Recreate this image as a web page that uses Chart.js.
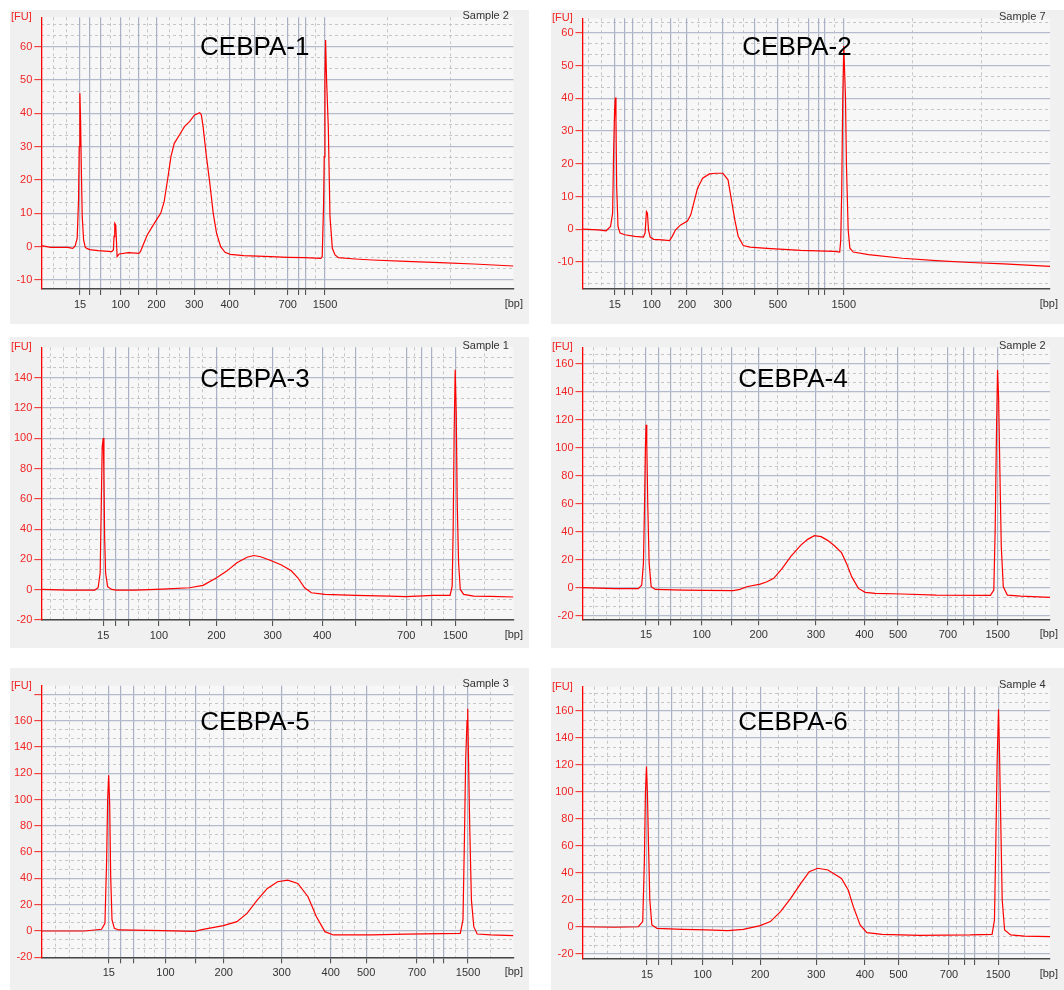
<!DOCTYPE html>
<html>
<head>
<meta charset="utf-8">
<script src="https://cdn.jsdelivr.net/npm/chart.js@4.4.1/dist/chart.umd.min.js"></script>
<style>
  body { margin: 0; background: #fff; width: 1064px; height: 990px; position: relative; overflow: hidden; }
  canvas { position: absolute; }
</style>
</head>
<body>
<canvas id="c1"></canvas>
<canvas id="c2"></canvas>
<canvas id="c3"></canvas>
<canvas id="c4"></canvas>
<canvas id="c5"></canvas>
<canvas id="c6"></canvas>
<script>
// DNA 1000 ladder sizes [bp]
var ladderBp = [15, 25, 50, 100, 150, 200, 300, 400, 500, 700, 850, 1000, 1500];

// migration position of each ladder peak (% of the time window), per run
var ladder1 = [8.2, 10.3, 12.6, 16.8, 20.7, 24.4, 32.4, 39.9, 45.1, 52.2, 54.5, 55.9, 60.1];
var ladder2 = [6.9, 9.05, 10.8, 14.8, 18.8, 22.35, 29.97, 36.8, 41.8, 48.3, 50.4, 51.8, 55.9];
var ladder3 = [13.1, 15.8, 18.5, 24.9, 31.4, 37.1, 49.0, 59.5, 66.5, 77.3, 80.6, 82.65, 87.7];
var ladder4 = [13.6, 16.3, 18.8, 25.5, 31.85, 37.7, 49.95, 60.3, 67.5, 78.15, 81.55, 83.75, 88.8];
var ladder5 = [14.3, 16.85, 19.55, 26.3, 32.7, 38.65, 50.9, 61.3, 68.8, 79.55, 83.15, 85.15, 90.4];
var ladder6 = [13.8, 16.35, 19.05, 25.7, 32.05, 38.0, 50.0, 60.4, 67.6, 78.4, 81.8, 83.8, 88.9];

// which ladder sizes get a printed label
var labels1 = ['15', '', '', '100', '', '200', '300', '400', '', '700', '', '', '1500'];
var labels2 = ['15', '', '', '100', '', '200', '300', '', '500', '', '', '', '1500'];
var labels3 = ['15', '', '', '100', '', '200', '300', '400', '', '700', '', '', '1500'];
var labels4 = ['15', '', '', '100', '', '200', '300', '400', '500', '700', '', '', '1500'];

// FU tick values
var yTicksA = [-10, 0, 10, 20, 30, 40, 50, 60];
var yTicks3 = [-20, 0, 20, 40, 60, 80, 100, 120, 140];
var yTicks4 = [-20, 0, 20, 40, 60, 80, 100, 120, 140, 160];
var yTicks5 = [-20, 0, 20, 40, 60, 80, 100, 120, 140, 160, 180];

// traces: time (% of window) and fluorescence [FU]
var time1 = [0, 2.01, 5.59, 6.67, 7.17, 7.6, 7.89, 8.03, 8.17, 8.32,
  8.46, 8.67, 8.96, 9.32, 9.75, 10.25, 12.04, 14.91, 15.27, 15.41,
  15.56, 15.77, 16.06, 16.49, 18.49, 20.65, 21.0, 21.72, 22.44, 23.51,
  24.59, 25.3, 26.02, 26.74, 27.46, 28.17, 29.25, 30.32, 31.4, 32.47,
  33.55, 33.91, 34.27, 34.98, 35.7, 36.42, 37.13, 37.99, 38.92, 40.0,
  42.87, 48.6, 52.19, 55.77, 59.21, 59.5, 59.78, 59.93, 60.08, 60.22,
  60.43, 60.79, 61.15, 61.65, 62.22, 62.94, 66.52, 70.11, 77.28, 84.44,
  91.61, 100];
var fu1 = [0.3, -0.2, -0.2, -0.5, 0.2, 2.5, 14, 30, 46, 38,
  25, 9, 2, -0.2, -0.6, -0.9, -1.2, -1.5, -1.0, 3,
  7, 6.5, -3, -2.2, -1.8, -2, -1.5, 1, 3.5, 6,
  8.5, 10, 13.5, 20, 27, 31, 33.5, 36, 37.5, 39.5,
  40.2, 39.5, 36, 27, 19, 10, 4, 0, -1.7, -2.3,
  -2.7, -3, -3.2, -3.3, -3.5, -3, 12, 27, 50, 62,
  50, 36, 9, -0.5, -2.5, -3.3, -3.7, -4, -4.4, -4.8,
  -5.2, -5.8];

var time2 = [0, 3.25, 5.06, 6.0, 6.44, 6.66, 6.87, 7.02, 7.16, 7.31,
  7.6, 8.03, 9.04, 11.21, 13.03, 13.39, 13.68, 13.89, 14.11, 14.48,
  15.2, 17.01, 18.61, 19.19, 19.91, 21.0, 22.45, 23.16, 23.89, 24.61,
  25.7, 27.15, 28.6, 30.04, 31.13, 31.85, 32.57, 33.3, 34.38, 35.83,
  39.45, 46.69, 53.93, 55.02, 55.24, 55.45, 55.67, 55.89, 56.03, 56.25,
  56.47, 56.83, 57.19, 57.92, 61.18, 68.42, 75.66, 82.9, 90.14, 100];
var fu2 = [0, -0.2, -0.5, 0.8, 4.9, 24, 36.5, 40.3, 33.4, 13,
  0.8, -1.2, -1.7, -2.2, -2.4, -1.2, 5.4, 4.9, -0.2, -2.4,
  -3.1, -3.3, -3.5, -2.2, -0.2, 1.3, 2.5, 4.4, 8.5, 12.5,
  15.6, 16.9, 17.1, 17.1, 15.1, 9, 2.9, -2.2, -5, -5.5,
  -5.9, -6.5, -6.8, -7, -3.3, 12, 40, 56, 49.7, 40.5,
  19.1, -0.2, -5.8, -7, -7.8, -8.9, -9.6, -10.2, -10.6, -11.4];

var time3 = [0, 5.59, 11.33, 12.04, 12.47, 12.69, 12.9, 13.12, 13.26, 13.41,
  13.62, 14.05, 14.91, 15.99, 19.93, 25.66, 31.4, 34.27, 37.13, 39.28,
  41.43, 43.58, 45.02, 46.45, 48.6, 50.75, 52.9, 54.34, 55.77, 57.2,
  60.07, 66.52, 73.69, 77.28, 83.01, 86.59, 87.03, 87.24, 87.46, 87.67,
  87.89, 88.1, 88.39, 88.75, 89.46, 91.61, 95.2, 100];
var fu3 = [0.2, -0.2, -0.2, 1.3, 11.2, 53, 94.7, 100.2, 79.3, 35.4,
  11.2, 2, 0.2, -0.2, -0.2, 0.4, 1.3, 2.9, 7.9, 12.3,
  17.8, 21.5, 22.6, 21.8, 19.3, 16.5, 12.7, 7.9, 1.3, -2,
  -3.1, -3.7, -4.2, -4.6, -3.7, -3.7, 2.4, 39.8, 105.7, 145.3,
  116.7, 57.4, 17.8, 0.2, -3.1, -4.2, -4.4, -4.8];

var time4 = [0, 6.87, 11.94, 12.67, 13.03, 13.24, 13.46, 13.61, 13.75, 13.97,
  14.26, 14.69, 15.56, 21.37, 26.44, 32.23, 33.67, 35.12, 38.02, 39.47,
  40.91, 42.72, 44.53, 46.71, 48.15, 49.6, 51.05, 52.5, 53.95, 55.4,
  56.48, 57.57, 59.02, 60.47, 62.64, 68.44, 75.68, 87.26, 87.98, 88.27,
  88.56, 88.78, 89.0, 89.29, 89.58, 90.01, 90.88, 93.78, 100];
var fu4 = [0, -0.7, -0.7, 1.9, 17.4, 53.2, 101, 116.5, 103.3, 58,
  17.4, 0.7, -1.2, -1.7, -1.9, -2.1, -1.2, 0.7, 2.6, 4.3,
  6.7, 13.8, 22.2, 30.5, 34.6, 37.2, 36.5, 33.7, 29.8, 25.1,
  17.4, 7.9, -0.5, -3.3, -4.1, -4.5, -5.3, -5.5, -1.7, 41.3,
  112.9, 155.8, 136.8, 81.9, 29.4, 0.7, -5.3, -6, -6.9];

var time5 = [0, 9.18, 12.76, 13.48, 13.84, 14.05, 14.27, 14.48, 14.7, 14.98,
  15.48, 16.34, 25.66, 32.47, 34.27, 38.57, 41.43, 43.58, 45.73, 47.89,
  50.04, 52.19, 54.34, 56.49, 58.28, 60.07, 61.86, 70.11, 77.28, 88.75,
  89.32, 89.61, 89.89, 90.18, 90.32, 90.47, 90.75, 91.11, 91.61, 92.33,
  95.2, 100];
var fu5 = [0, 0, 1.3, 5.8, 53.9, 99.5, 118.5, 97, 41.3, 8.4,
  2, 0.8, 0.3, -0.3, 1.3, 4.1, 7.1, 13.4, 23.5, 32.4,
  37.5, 38.7, 36.2, 26.1, 10.9, -0.5, -3, -3, -2.3, -1.8,
  8.4, 66.6, 129.9, 160, 169, 134.9, 79.2, 23.5, 3.3, -2.3,
  -3, -3.5];

var time6 = [0, 6.87, 11.94, 12.88, 13.24, 13.46, 13.68, 13.89, 14.11, 14.4,
  14.84, 15.93, 21.35, 26.42, 31.11, 34.39, 38.01, 40.18, 42.36, 44.53,
  46.7, 48.51, 50.32, 52.5, 55.4, 56.84, 57.93, 59.38, 60.83, 64.09,
  72.05, 82.9, 87.61, 88.12, 88.41, 88.7, 88.99, 89.2, 89.42, 89.78,
  90.29, 91.59, 94.49, 100];
var fu6 = [0.2, -0.2, 0.2, 4, 49.6, 99, 118.8, 99, 62, 20,
  1.5, -1, -1.7, -2.2, -2.7, -1.7, 1, 4, 11.4, 21.2,
  32.3, 41, 43.5, 42.2, 36, 27.4, 15.1, 1.5, -4.2, -5.4,
  -6.2, -5.9, -5.4, 5.2, 62, 123.7, 161.2, 128.6, 86.7, 20,
  -2.2, -5.9, -6.7, -7.2];

var FONT = "'Liberation Sans', Arial, sans-serif";
var RED = '#f22424';

// panel boxes and plot areas are in page pixels
var panels = [
  { id: 'c1', box: [10, 10, 519, 314], area: [41.3, 17.3, 513.4, 289], ymin: -12.7, ymax: 68.8, step: 10,
    yTicks: yTicksA, time: time1, fu: fu1, ladder: ladder1, labels: labels1,
    title: 'CEBPA-1', sample: 'Sample 2', tx: 254.7, ty: 47.7 },
  { id: 'c2', box: [551, 10, 513, 314], area: [582.5, 18.3, 1050, 289], ymin: -18.3, ymax: 64.5, step: 10,
    yTicks: yTicksA, time: time2, fu: fu2, ladder: ladder2, labels: labels2,
    title: 'CEBPA-2', sample: 'Sample 7', tx: 797, ty: 47.7 },
  { id: 'c3', box: [10, 337, 519, 311], area: [41.3, 347.3, 513.4, 620], ymin: -20, ymax: 160.2, step: 20,
    yTicks: yTicks3, time: time3, fu: fu3, ladder: ladder3, labels: labels3,
    title: 'CEBPA-3', sample: 'Sample 1', tx: 255, ty: 380 },
  { id: 'c4', box: [551, 337, 513, 311], area: [582.5, 347.3, 1050, 619.3], ymin: -22.6, ymax: 172, step: 20,
    yTicks: yTicks4, time: time4, fu: fu4, ladder: ladder4, labels: labels4,
    title: 'CEBPA-4', sample: 'Sample 2', tx: 793, ty: 380 },
  { id: 'c5', box: [10, 668, 519, 322], area: [41.3, 685.7, 513.4, 957.3], ymin: -20, ymax: 186.6, step: 20,
    yTicks: yTicks5, time: time5, fu: fu5, ladder: ladder5, labels: labels4,
    title: 'CEBPA-5', sample: 'Sample 3', tx: 255, ty: 722.7 },
  { id: 'c6', box: [551, 668, 513, 322], area: [582.5, 686.7, 1050, 959], ymin: -23.7, ymax: 178, step: 20,
    yTicks: yTicks4, time: time6, fu: fu6, ladder: ladder6, labels: labels4,
    title: 'CEBPA-6', sample: 'Sample 4', tx: 793, ty: 722.7 }
];

// dashed vertical grid between the ladder lines
function minorX(lad) {
  var out = [], i, k, g, n;
  for (k = lad[0] - 2.8; k > 0.5; k -= 2.8) out.push(k);
  for (i = 0; i < lad.length - 1; i++) {
    g = lad[i + 1] - lad[i];
    n = g < 3 ? 0 : (g < 6 ? 1 : 2);
    for (k = 1; k <= n; k++) out.push(lad[i] + g * k / (n + 1));
  }
  var last = lad[lad.length - 1], rem = 100 - last;
  var d = Math.max(2, Math.round(rem / 13.3));
  for (k = 1; k < d; k++) out.push(last + rem * k / d);
  return out;
}

// dashed horizontal grid, three per major step
function minorY(min, max, step) {
  var out = [], s = step / 3, v;
  for (v = Math.ceil(min / s) * s; v < max; v += s) {
    if (Math.abs(v / step - Math.round(v / step)) > 0.01) out.push(v);
  }
  return out;
}

var panelBg = {
  id: 'panelBg',
  beforeDraw: function(chart) {
    var c = chart.ctx, a = chart.chartArea;
    c.save();
    c.fillStyle = '#f0f0f0';
    c.fillRect(0, 0, chart.width, chart.height);
    c.fillStyle = '#f7f7f7';
    c.fillRect(a.left, a.top, a.right - a.left, a.bottom - a.top);
    c.restore();
  }
};

var panelText = {
  id: 'panelText',
  afterDraw: function(chart, args, opts) {
    var c = chart.ctx, a = chart.chartArea;
    c.save();
    c.textBaseline = 'middle';
    c.font = '11px ' + FONT;
    c.fillStyle = RED;
    c.textAlign = 'left';
    c.fillText('[FU]', 1, a.top);
    c.fillStyle = '#333';
    c.textAlign = 'right';
    c.fillText('[bp]', chart.width - 6, a.bottom + 15);
    c.fillText(opts.sample, a.right - 4.5, a.top - 1.6);
    c.fillStyle = '#000';
    c.textAlign = 'center';
    c.font = '26px ' + FONT;
    c.fillText(opts.title, opts.tx, opts.ty);
    c.restore();
  }
};

panels.forEach(function(p) {
  var cv = document.getElementById(p.id);
  var bx = p.box, ar = p.area;
  cv.style.left = bx[0] + 'px';
  cv.style.top = bx[1] + 'px';
  cv.width = bx[2];
  cv.height = bx[3];
  cv.style.width = bx[2] + 'px';
  cv.style.height = bx[3] + 'px';

  var leftW = ar[0] - bx[0];
  var bottomH = bx[1] + bx[3] - ar[3];
  var xMinor = minorX(p.ladder);
  var yMinor = minorY(p.ymin, p.ymax, p.step);
  var span = p.ymax - p.ymin;

  var pts = p.time.map(function(t, i) { return { x: t, y: p.fu[i] }; });

  new Chart(cv, {
    type: 'line',
    data: {
      datasets: [{
        data: pts,
        borderColor: '#ff0000',
        borderWidth: 1.2,
        pointRadius: 0,
        tension: 0,
        fill: false
      }]
    },
    options: {
      responsive: false,
      animation: false,
      events: [],
      layout: {
        padding: { left: 0, bottom: 0, top: ar[1] - bx[1], right: bx[0] + bx[2] - ar[2] }
      },
      plugins: {
        legend: { display: false },
        tooltip: { enabled: false },
        panelText: { title: p.title, sample: p.sample, tx: p.tx - bx[0], ty: p.ty - bx[1] }
      },
      scales: {
        xm: {
          type: 'linear', position: 'bottom', min: 0, max: 100, z: -1,
          afterBuildTicks: function(s) { s.ticks = xMinor.map(function(v) { return { value: v }; }); },
          afterFit: function(s) { s.height = 0; s.paddingLeft = 0; s.paddingRight = 0; },
          ticks: { display: false },
          grid: { color: '#c6c6c6', lineWidth: 1, drawTicks: false },
          border: { display: false, dash: [3, 3] }
        },
        ym: {
          type: 'linear', position: 'left', min: p.ymin, max: p.ymax, z: -1,
          afterBuildTicks: function(s) { s.ticks = yMinor.map(function(v) { return { value: v }; }); },
          afterFit: function(s) { s.width = 0; s.paddingTop = 0; s.paddingBottom = 0; },
          ticks: { display: false },
          grid: { color: '#c6c6c6', lineWidth: 1, drawTicks: false },
          border: { display: false, dash: [3, 3] }
        },
        x: {
          type: 'linear', position: 'bottom', min: 0, max: 100,
          afterBuildTicks: function(s) { s.ticks = p.ladder.map(function(v) { return { value: v }; }); },
          afterFit: function(s) { s.height = bottomH; s.paddingLeft = 0; s.paddingRight = 0; },
          ticks: {
            autoSkip: false, maxRotation: 0, padding: 3, color: '#333',
            font: { family: FONT, size: 11 },
            callback: function(v, i) { return p.labels[i]; }
          },
          grid: { color: '#a9b2c4', lineWidth: 1.2, drawTicks: true, tickLength: 6, tickColor: '#444', tickWidth: 1 },
          border: { display: true, color: '#474747', width: 1.5 }
        },
        y: {
          type: 'linear', position: 'left', min: p.ymin, max: p.ymax,
          afterBuildTicks: function(s) { s.ticks = p.yTicks.map(function(v) { return { value: v }; }); },
          afterFit: function(s) { s.width = leftW; s.paddingTop = 0; s.paddingBottom = 0; },
          ticks: {
            autoSkip: false, padding: 2, color: RED,
            font: { family: FONT, size: 11 },
            callback: function(v) { return (p.ymax - v) < 0.05 * span ? '' : String(v); }
          },
          grid: { color: '#b3bbcc', lineWidth: 1.3, drawTicks: true, tickLength: 7, tickColor: RED, tickWidth: 1 },
          border: { display: true, color: '#ff0000', width: 1.3 }
        }
      }
    },
    plugins: [panelBg, panelText]
  });
});
</script>
</body>
</html>
